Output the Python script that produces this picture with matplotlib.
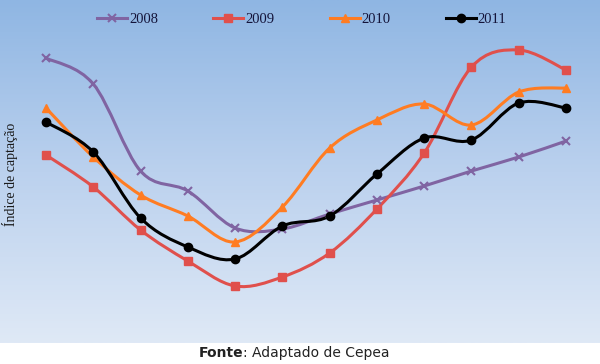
import numpy as np
import matplotlib
matplotlib.use("Agg")
import matplotlib.pyplot as plt
from matplotlib.path import Path
from matplotlib.patches import PathPatch
from matplotlib.lines import Line2D
from matplotlib.colors import LinearSegmentedColormap

# índice de captação por mês (jan..dez)
meses = np.arange(12)
anos = ["2008", "2009", "2010", "2011"]
v2008 = [242, 216, 129, 109, 72, 71, 86, 100, 114, 129, 143, 159]
v2009 = [145, 113, 70, 39, 14, 23, 47, 91, 147, 233, 250, 230]
v2010 = [192, 143, 105, 84, 58, 93, 152, 180, 196, 175, 208, 212]
v2011 = [178, 148, 82, 53, 41, 74, 84, 126, 162, 160, 197, 192]

cores = ["#8064a2", "#e0504c", "#ff7c22", "#000000"]
marcadores = ["x", "s", "^", "o"]
series = [v2008, v2009, v2010, v2011]


def curva_suave(x, y):
    # bezier tipo Excel (catmull-rom) passando pelos pontos
    x = np.asarray(x, float)
    y = np.asarray(y, float)
    p = np.column_stack([x, y])
    n = len(p)
    verts = [p[0]]
    codes = [Path.MOVETO]
    for i in range(n - 1):
        p0 = p[i - 1] if i > 0 else p[i]
        p3 = p[i + 2] if i + 2 < n else p[i + 1]
        c1 = p[i] + (p[i + 1] - p0) / 6.0
        c2 = p[i + 1] - (p3 - p[i]) / 6.0
        verts += [c1, c2, p[i + 1]]
        codes += [Path.CURVE4] * 3
    return Path(verts, codes)


fig = plt.figure(figsize=(6, 3.64), dpi=100)
fig.patch.set_facecolor("white")

# fundo em degradê azul
bg = fig.add_axes([0, 21 / 364, 1, 343 / 364])
cmap = LinearSegmentedColormap.from_list("bg", ["#8fb6e3", "#bbd1ee", "#dfe9f6"])
grad = np.linspace(0, 1, 256).reshape(-1, 1)
bg.imshow(grad, aspect="auto", cmap=cmap, extent=[0, 1, 0, 1], origin="upper")
bg.axis("off")

ax = fig.add_axes([20 / 600, 1 - 325 / 364, 573 / 600, 287 / 364])
ax.patch.set_alpha(0)
ax.set_xlim(-0.55, 11.57)
ax.set_ylim(-25, 262)
for s in ax.spines.values():
    s.set_visible(False)
ax.set_xticks([])
ax.set_yticks([])

for vals, cor, mk in zip(series, cores, marcadores):
    ax.add_patch(PathPatch(curva_suave(meses, vals), facecolor="none",
                           edgecolor=cor, lw=2.2, zorder=2))
    ax.plot(meses, vals, linestyle="none", marker=mk, color=cor,
            markersize=6, mew=1.5 if mk == "x" else 1, zorder=3)

fig.text(10 / 600, 1 - 174 / 364, "Índice de captação", rotation=90,
         ha="center", va="center", fontsize=10, family="Liberation Serif",
         color="#1a1a1a")

handles = [Line2D([0], [0], color=c, marker=m, lw=2.2, markersize=6,
                  mew=1.5 if m == "x" else 1)
           for c, m in zip(cores, marcadores)]
leg = fig.legend(handles, anos, loc="center", bbox_to_anchor=(0.503, 1 - 19 / 364),
                 ncol=4, frameon=False, handlelength=2.05, handletextpad=0.12,
                 columnspacing=3.8, prop={"family": "Liberation Serif", "size": 10.5})
for t in leg.get_texts():
    t.set_color("#14143a")

fig.text(0.405, 1 - 353 / 364, "Fonte", ha="right", va="center",
         fontsize=10, fontweight="bold", color="#222222")
fig.text(0.405, 1 - 353 / 364, ": Adaptado de Cepea", ha="left", va="center",
         fontsize=10, color="#222222")

fig.savefig("out.png", dpi=100)
